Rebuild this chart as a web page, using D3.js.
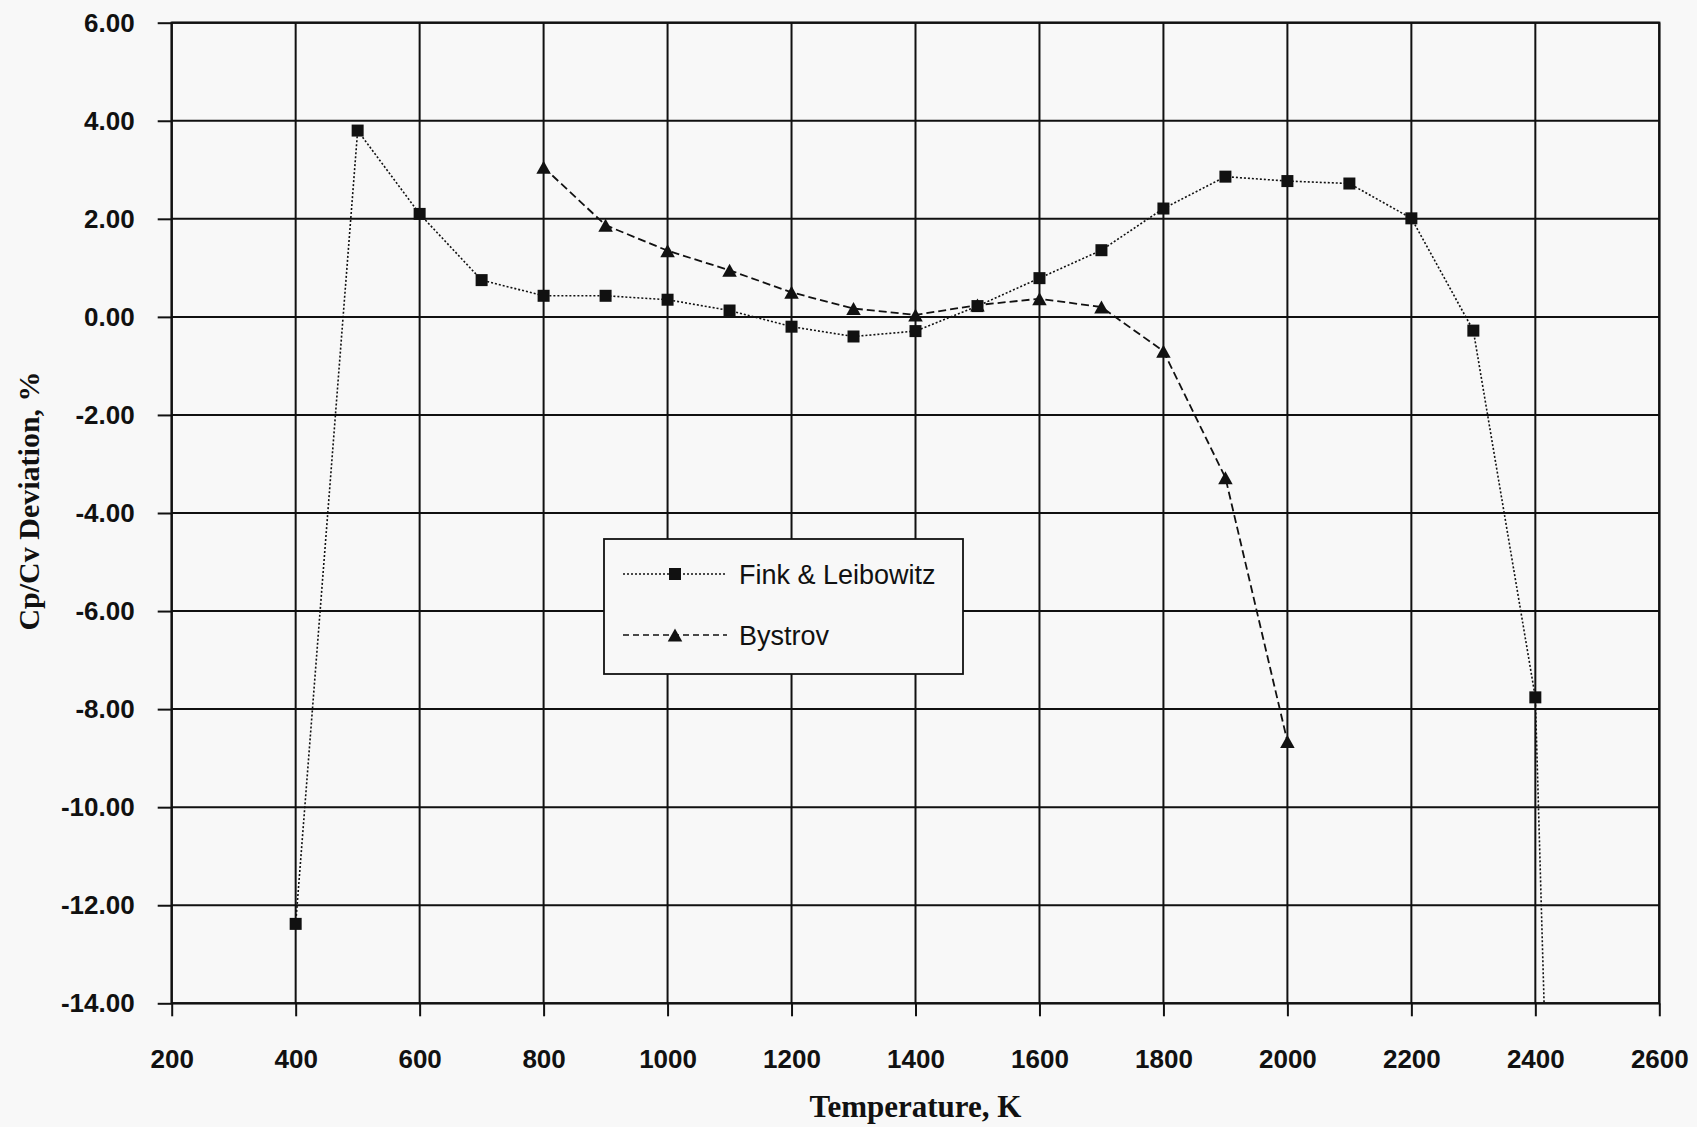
<!DOCTYPE html>
<html>
<head>
<meta charset="utf-8">
<script src="https://cdn.jsdelivr.net/npm/d3@7"></script>
<style>
  html, body { margin: 0; padding: 0; background: #f8f8f8; }
  svg { display: block; }
</style>
</head>
<body>
<svg id="chart" width="1697" height="1127"></svg>
<script>
// ---- data ----
const finkT = [400, 500, 600, 700, 800, 900, 1000, 1100, 1200, 1300, 1400, 1500, 1600, 1700, 1800, 1900, 2000, 2100, 2200, 2300, 2400, 2500];
const finkV = [-12.38, 3.80, 2.10, 0.75, 0.43, 0.43, 0.35, 0.13, -0.20, -0.40, -0.29, 0.22, 0.79, 1.36, 2.21, 2.86, 2.77, 2.72, 2.01, -0.28, -7.76, -52.0];
const bystT = [800, 900, 1000, 1100, 1200, 1300, 1400, 1500, 1600, 1700, 1800, 1900, 2000];
const bystV = [3.05, 1.87, 1.35, 0.95, 0.50, 0.17, 0.04, 0.24, 0.37, 0.20, -0.70, -3.28, -8.66];
const xTicks = [200, 400, 600, 800, 1000, 1200, 1400, 1600, 1800, 2000, 2200, 2400, 2600];
const yTicks = [6, 4, 2, 0, -2, -4, -6, -8, -10, -12, -14];
const yTickLabels = ["6.00", "4.00", "2.00", "0.00", "-2.00", "-4.00", "-6.00", "-8.00", "-10.00", "-12.00", "-14.00"];
const seriesNames = ["Fink & Leibowitz", "Bystrov"];
const xTitle = "Temperature, K";
const yTitle = "Cp/Cv Deviation, %";

// ---- layout ----
const L = 171.7, R = 1659.3, T = 22.7, B = 1003.3;
const svg = d3.select("#chart");
const x = d3.scaleLinear().domain([200, 2600]).range([L, R]);
const y = d3.scaleLinear().domain([-14, 6]).range([B, T]);
const ink = "#111";

svg.append("defs").append("clipPath").attr("id", "plotclip")
  .append("rect").attr("x", L).attr("y", T).attr("width", R - L).attr("height", B - T);

// gridlines
const grid = svg.append("g");
grid.selectAll("line.v").data(xTicks).join("line")
  .attr("x1", d => x(d)).attr("x2", d => x(d)).attr("y1", T).attr("y2", B)
  .attr("stroke", ink).attr("stroke-width", 2);
grid.selectAll("line.h").data(yTicks).join("line")
  .attr("x1", L).attr("x2", R).attr("y1", d => y(d)).attr("y2", d => y(d))
  .attr("stroke", ink).attr("stroke-width", 2);
svg.append("rect").attr("x", L).attr("y", T).attr("width", R - L).attr("height", B - T)
  .attr("fill", "none").attr("stroke", ink).attr("stroke-width", 2.2);

// axes
const yAxis = d3.axisLeft(y).tickValues(yTicks).tickSize(14).tickPadding(23)
  .tickFormat((d, i) => yTickLabels[i]);
const gy = svg.append("g").attr("transform", `translate(${L},0)`).call(yAxis);
const xAxis = d3.axisBottom(x).tickValues(xTicks).tickSize(13).tickPadding(33)
  .tickFormat(d => String(d));
const gx = svg.append("g").attr("transform", `translate(0,${B})`).call(xAxis);
[gx, gy].forEach(g => {
  g.select(".domain").remove();
  g.selectAll(".tick line").attr("stroke", ink).attr("stroke-width", 2);
  g.selectAll(".tick text").attr("fill", ink)
    .style("font-family", "'Liberation Sans', Arial, sans-serif")
    .style("font-weight", "bold").style("font-size", "26px");
});

// axis titles
svg.append("text").attr("x", (L + R) / 2).attr("y", 1117)
  .attr("text-anchor", "middle")
  .style("font-family", "'Liberation Serif', 'Times New Roman', serif")
  .style("font-weight", "bold").style("font-size", "31px").attr("fill", ink)
  .text(xTitle);
svg.append("text").attr("transform", "translate(39,501) rotate(-90)")
  .attr("text-anchor", "middle")
  .style("font-family", "'Liberation Serif', 'Times New Roman', serif")
  .style("font-weight", "bold").style("font-size", "30px").attr("fill", ink)
  .text(yTitle);

// series
const fink = finkT.map((t, i) => ({t, v: finkV[i]}));
const byst = bystT.map((t, i) => ({t, v: bystV[i]}));
const line = d3.line().x(d => x(d.t)).y(d => y(d.v));
const plot = svg.append("g").attr("clip-path", "url(#plotclip)");
plot.append("path").datum(fink).attr("d", line).attr("fill", "none")
  .attr("stroke", ink).attr("stroke-width", 1.6).attr("stroke-dasharray", "2,2");
plot.append("path").datum(byst).attr("d", line).attr("fill", "none")
  .attr("stroke", ink).attr("stroke-width", 1.8).attr("stroke-dasharray", "8,4");

const sq = 12, tw = 14.5, th = 13;
const triPath = `M0,${-th / 2}L${tw / 2},${th / 2}L${-tw / 2},${th / 2}Z`;
plot.selectAll("rect.fm").data(fink).join("rect").attr("class", "fm")
  .attr("x", d => x(d.t) - sq / 2).attr("y", d => y(d.v) - sq / 2)
  .attr("width", sq).attr("height", sq).attr("fill", ink);
plot.selectAll("path.bm").data(byst).join("path").attr("class", "bm")
  .attr("transform", d => `translate(${x(d.t)},${y(d.v)})`)
  .attr("d", triPath).attr("fill", ink);

// legend
const lg = svg.append("g");
const lx0 = 604, ly0 = 539, lw = 359, lh = 135;
lg.append("rect").attr("x", lx0).attr("y", ly0).attr("width", lw).attr("height", lh)
  .attr("fill", "#f8f8f8").attr("stroke", ink).attr("stroke-width", 1.8);
const rows = [
  {name: seriesNames[0], dash: "2,2", sw: 1.6, marker: "sq", cy: 574},
  {name: seriesNames[1], dash: "6,4", sw: 1.6, marker: "tri", cy: 635}
];
rows.forEach(r => {
  lg.append("line").attr("x1", 623).attr("x2", 727).attr("y1", r.cy).attr("y2", r.cy)
    .attr("stroke", ink).attr("stroke-width", r.sw).attr("stroke-dasharray", r.dash);
  if (r.marker === "sq") {
    lg.append("rect").attr("x", 675 - sq / 2).attr("y", r.cy - sq / 2)
      .attr("width", sq).attr("height", sq).attr("fill", ink);
  } else {
    lg.append("path").attr("transform", `translate(675,${r.cy})`).attr("d", triPath).attr("fill", ink);
  }
  lg.append("text").attr("x", 739).attr("y", r.cy + 10)
    .style("font-family", "'Liberation Sans', Arial, sans-serif")
    .style("font-size", "27px").attr("fill", ink).text(r.name);
});
</script>
</body>
</html>
